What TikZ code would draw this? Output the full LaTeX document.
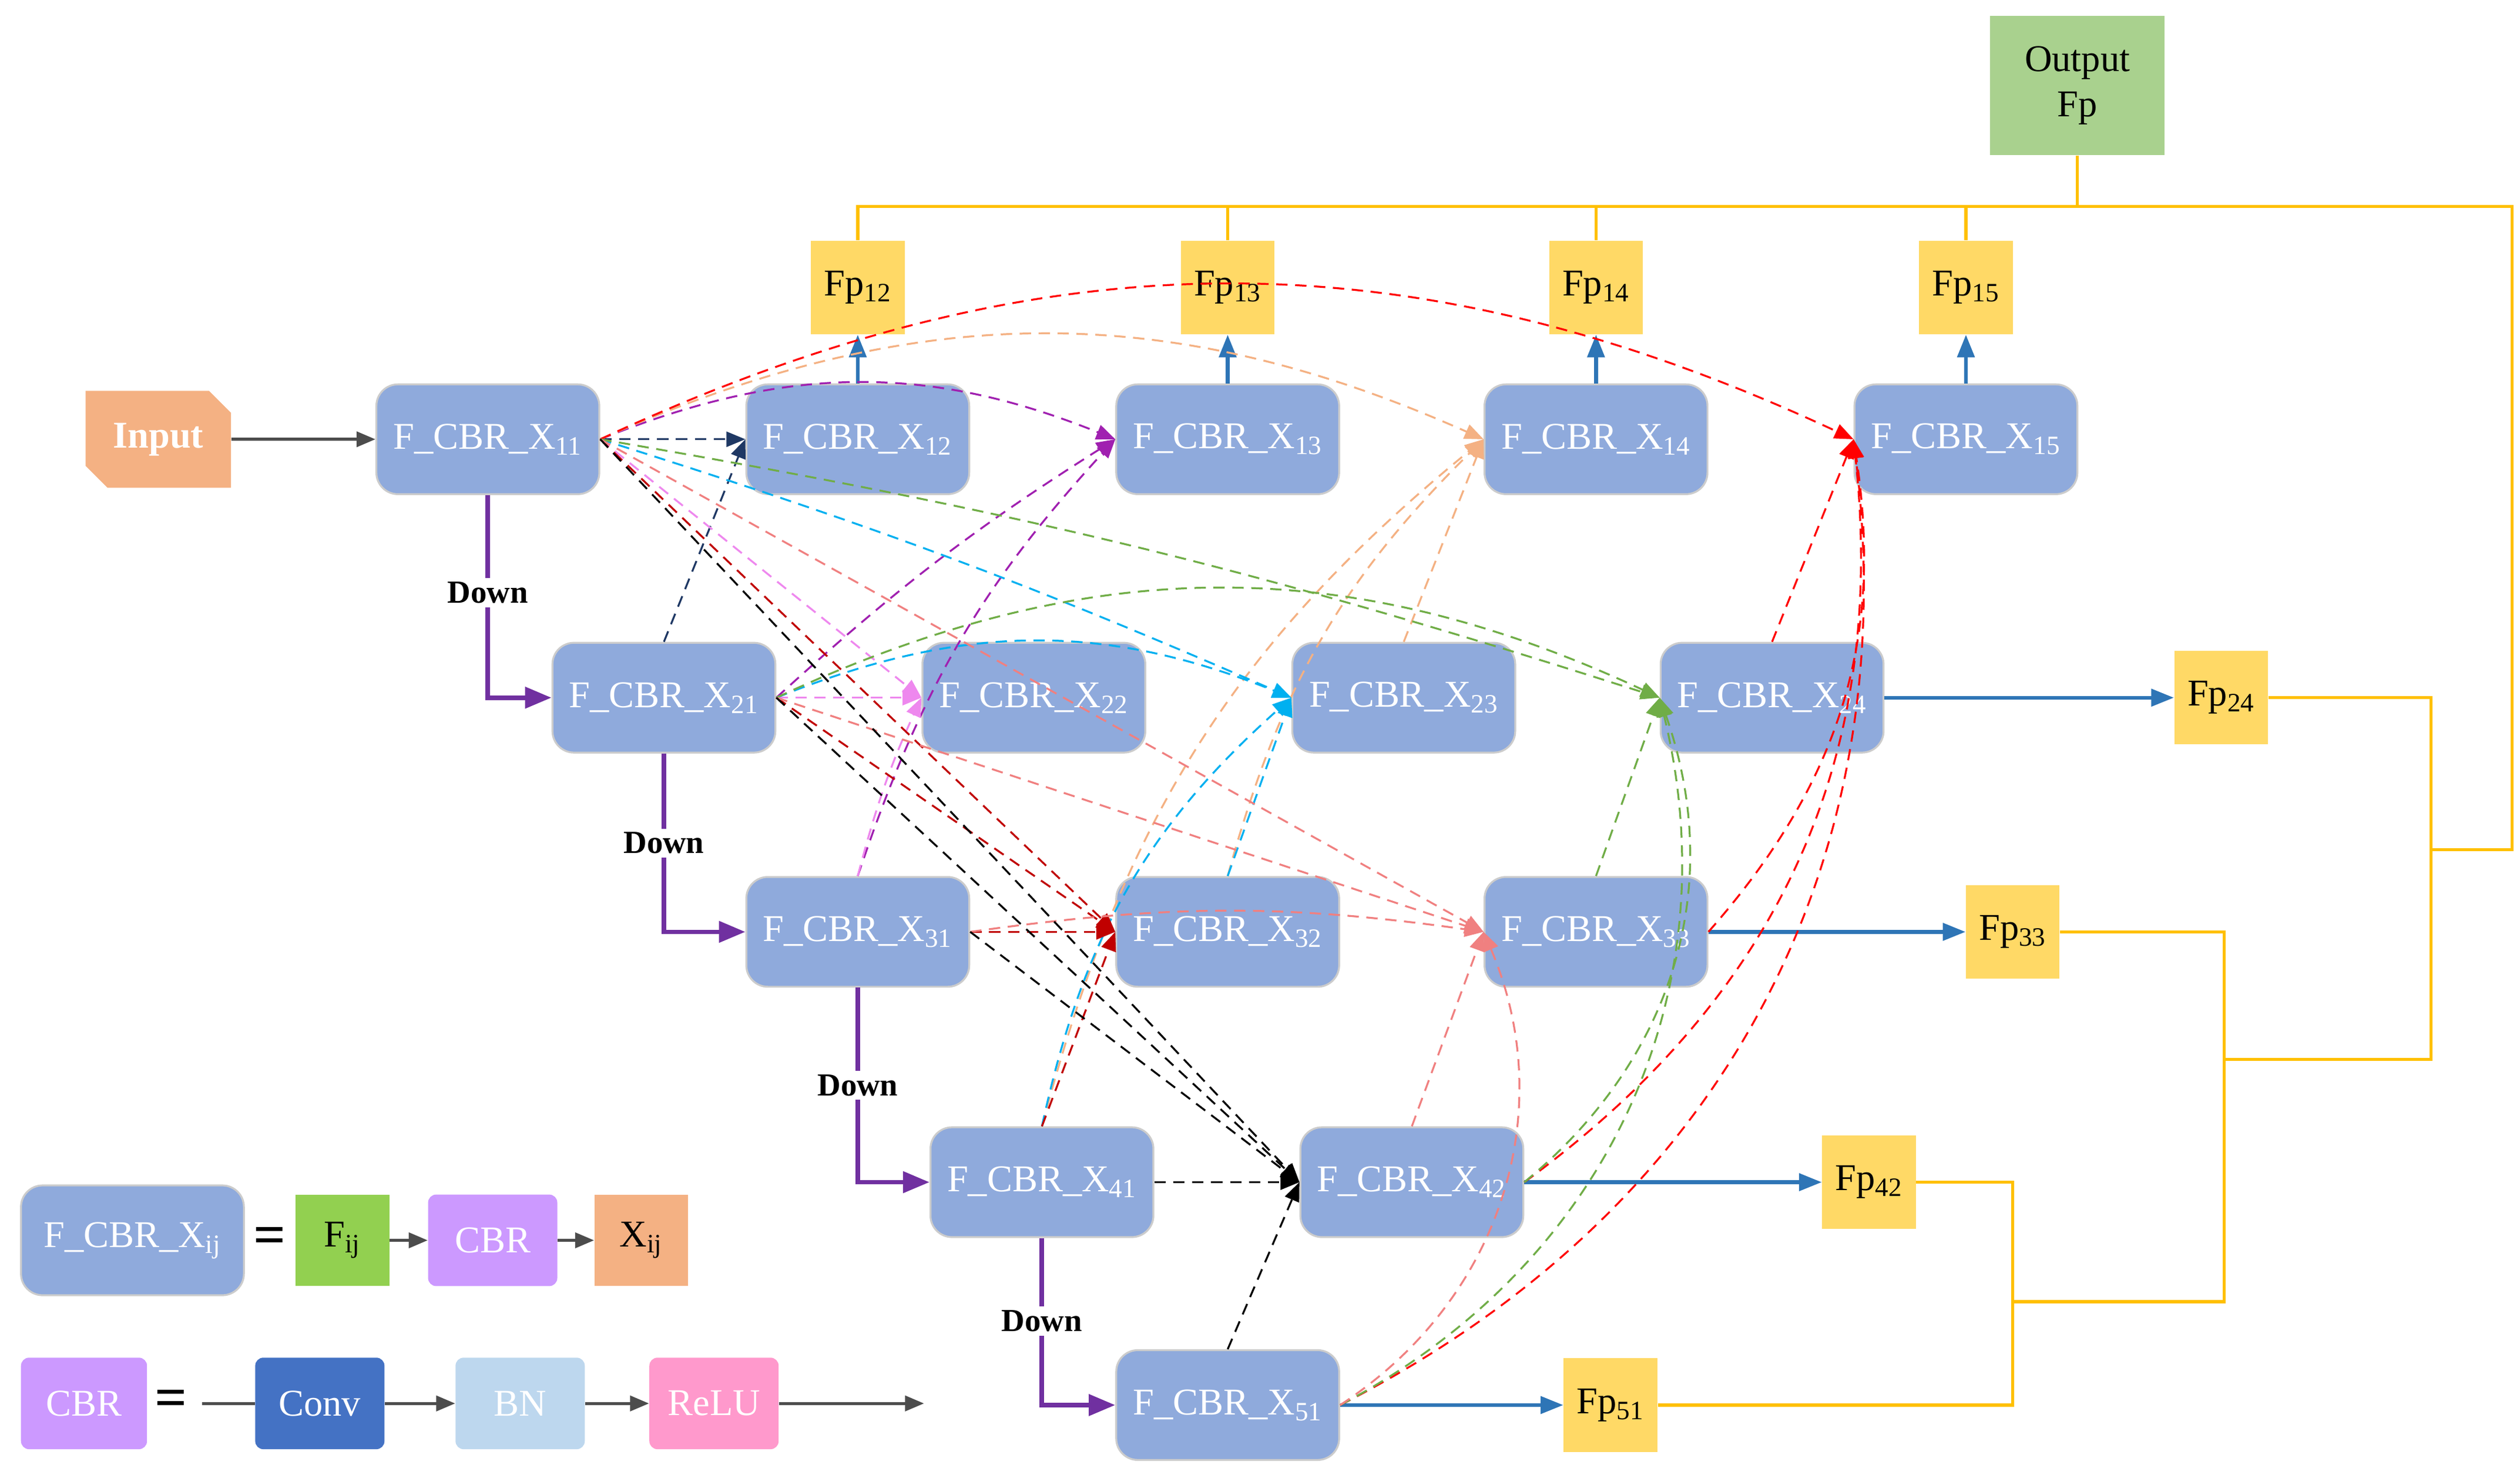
\documentclass[tikz,border=0pt]{standalone}
\usepackage{fontspec}
\setmainfont{Liberation Serif}
\usetikzlibrary{arrows.meta,positioning,shapes.misc}
\definecolor{blkblue}{HTML}{8FAADC}
\definecolor{fpyellow}{HTML}{FFD966}
\definecolor{outgreen}{HTML}{A9D18E}
\definecolor{inorange}{HTML}{F4B183}
\definecolor{fgreen}{HTML}{92D050}
\definecolor{cbrpurple}{HTML}{CC99FF}
\definecolor{convblue}{HTML}{4472C4}
\definecolor{bnblue}{HTML}{BDD7EE}
\definecolor{relupink}{HTML}{FF99CC}
\definecolor{fpline}{HTML}{FFC000}
\definecolor{upblue}{HTML}{2E75B6}
\definecolor{downpurple}{HTML}{7030A0}
\definecolor{cnavy}{HTML}{1F3864}
\definecolor{cpurple}{HTML}{A020B0}
\definecolor{corange}{HTML}{F4B183}
\definecolor{cred}{HTML}{FF0000}
\definecolor{cpink}{HTML}{EE88EE}
\definecolor{ccyan}{HTML}{00B0F0}
\definecolor{cgreen}{HTML}{70AD47}
\definecolor{cdred}{HTML}{C00000}
\definecolor{csalmon}{HTML}{F08080}

\begin{document}
\begin{tikzpicture}[
    x=0.03cm, y=-0.03cm,
    font=\fontsize{20}{24}\selectfont,
    blk/.style={draw=gray!40, line width=1pt, rounded corners=0.4cm, fill=blkblue,
                text=white, minimum width=4.14cm, minimum height=2.04cm, inner sep=0pt},
    fp/.style={fill=fpyellow, minimum width=1.74cm, minimum height=1.74cm, inner sep=0pt},
    leg/.style={minimum height=1.7cm, inner sep=0pt},
    up/.style={-{Triangle[length=12pt,width=9pt]}, upblue, line width=2pt},
    down/.style={-{Triangle[length=14pt,width=11pt]}, downpurple, line width=2.4pt},
    plain/.style={-{Triangle[length=10pt,width=8pt]}, black!70, line width=1.6pt},
    skip/.style={-{Triangle[length=10pt,width=8pt]}, dashed, dash pattern=on 6pt off 4pt, line width=1pt, #1},
    fpl/.style={fpline, line width=1.6pt},
    lbl/.style={fill=white, font=\fontsize{17}{20}\selectfont\bfseries, inner sep=2pt}
]
\useasboundingbox (0,0) rectangle (1560,907);

% encoder / decoder blocks
\node[blk] (x11) at (302,272) {F\_CBR\_X\textsubscript{11}};
\node[blk] (x12) at (531,272) {F\_CBR\_X\textsubscript{12}};
\node[blk] (x13) at (760,272) {F\_CBR\_X\textsubscript{13}};
\node[blk] (x14) at (988,272) {F\_CBR\_X\textsubscript{14}};
\node[blk] (x15) at (1217,272) {F\_CBR\_X\textsubscript{15}};
\node[blk] (x21) at (411,432) {F\_CBR\_X\textsubscript{21}};
\node[blk] (x22) at (640,432) {F\_CBR\_X\textsubscript{22}};
\node[blk] (x23) at (869,432) {F\_CBR\_X\textsubscript{23}};
\node[blk] (x24) at (1097,432) {F\_CBR\_X\textsubscript{24}};
\node[blk] (x31) at (531,577) {F\_CBR\_X\textsubscript{31}};
\node[blk] (x32) at (760,577) {F\_CBR\_X\textsubscript{32}};
\node[blk] (x33) at (988,577) {F\_CBR\_X\textsubscript{33}};
\node[blk] (x41) at (645,732) {F\_CBR\_X\textsubscript{41}};
\node[blk] (x42) at (874,732) {F\_CBR\_X\textsubscript{42}};
\node[blk] (x51) at (760,870) {F\_CBR\_X\textsubscript{51}};

% input and outputs
\node[fill=inorange, text=white, font=\fontsize{20}{24}\selectfont\bfseries,
      minimum width=2.7cm, minimum height=1.8cm, chamfered rectangle,
      chamfered rectangle corners={north east,south west}, chamfered rectangle xsep=0.3cm,
      inner sep=0pt] (input) at (98,272) {Input};
\node[fill=outgreen, minimum width=3.24cm, minimum height=2.58cm, align=center] (out) at (1286,53) {Output\\Fp};
\node[fp] (fp12) at (531,178) {Fp\textsubscript{12}};
\node[fp] (fp13) at (760,178) {Fp\textsubscript{13}};
\node[fp] (fp14) at (988,178) {Fp\textsubscript{14}};
\node[fp] (fp15) at (1217,178) {Fp\textsubscript{15}};
\node[fp] (fp24) at (1375,432) {Fp\textsubscript{24}};
\node[fp] (fp33) at (1246,577) {Fp\textsubscript{33}};
\node[fp] (fp42) at (1157,732) {Fp\textsubscript{42}};
\node[fp] (fp51) at (997,870) {Fp\textsubscript{51}};

% output tree
\coordinate (t0) at (1286,128);
\draw[fpl] (out.south) -- (t0);
\draw[fpl] (fp12.north) |- (t0) -| (1555,526) -- (1505,526);
\draw[fpl] (fp13.north) -- ++(0,-21);
\draw[fpl] (fp14.north) -- ++(0,-21);
\draw[fpl] (fp15.north) -- ++(0,-21);
\draw[fpl] (fp24.east) -| (1505,656) -- (1377,656);
\draw[fpl] (fp33.east) -| (1377,806) -- (1246,806);
\draw[fpl] (fp42.east) -| (1246,870) -- (fp51.east);

% main path
\draw[plain] (input) -- (x11);
\draw[down] (x11.south) |- (x21.west);
\draw[down] (x21.south) |- (x31.west);
\draw[down] (x31.south) |- (x41.west);
\draw[down] (x41.south) |- (x51.west);
\node[lbl] (d1) at (302,367) {Down};
\node[lbl] (d2) at (411,522) {Down};
\node[lbl] (d3) at (531,672) {Down};
\node[lbl] (d4) at (645,818) {Down};

% deep supervision
\draw[up] (x12) -- (fp12);
\draw[up] (x13) -- (fp13);
\draw[up] (x14) -- (fp14);
\draw[up] (x15) -- (fp15);
\draw[up] (x24) -- (fp24);
\draw[up] (x33) -- (fp33);
\draw[up] (x42) -- (fp42);
\draw[up] (x51) -- (fp51);

% dense skip paths
\draw[skip=cnavy] (x11.east) -- (x12.west);
\draw[skip=cnavy] (x21.north) -- (x12.west);
\draw[skip=cpurple] (x11.east) to[bend left=22] (x13.west);
\draw[skip=cpurple] (x31.north) to[bend left=12] (x13.west);
\draw[skip=cpurple] (x21.east) to[bend left=5] (x13.west);
\draw[skip=corange] (x11.east) to[bend left=24] (x14.west);
\draw[skip=corange] (x32.north) to[bend left=15] (x14.west);
\draw[skip=corange] (x41.north) to[bend left=18] (x14.west);
\draw[skip=corange] (x23.north) -- (x14.west);
\draw[skip=cred] (x11.east) to[bend left=25] (x15.west);
\draw[skip=cred] (x24.north) -- (x15.west);
\draw[skip=cred] (x33.east) to[bend right=25] (x15.west);
\draw[skip=cred] (x42.east) to[bend right=30] (x15.west);
\draw[skip=cred] (x51.east) to[bend right=35] (x15.west);
\draw[skip=cpink] (x11.east) -- (x22.west);
\draw[skip=cpink] (x21.east) -- (x22.west);
\draw[skip=cpink] (x31.north) to[bend left=5] (x22.west);
\draw[skip=ccyan] (x11.east) to[bend left=3] (x23.west);
\draw[skip=ccyan] (x21.east) to[bend left=22] (x23.west);
\draw[skip=ccyan] (x32.north) -- (x23.west);
\draw[skip=ccyan] (x41.north) to[bend left=18] (x23.west);
\draw[skip=cgreen] (x11.east) to[bend left=4] (x24.west);
\draw[skip=cgreen] (x21.east) to[bend left=25] (x24.west);
\draw[skip=cgreen] (x33.north) -- (x24.west);
\draw[skip=cgreen] (x42.east) to[bend right=35] (x24.west);
\draw[skip=cgreen] (x51.east) to[bend right=38] (x24.west);
\draw[skip=cdred] (x11.east) -- (x32.west);
\draw[skip=cdred] (x21.east) -- (x32.west);
\draw[skip=cdred] (x31.east) -- (x32.west);
\draw[skip=cdred] (x41.north) -- (x32.west);
\draw[skip=csalmon] (x11.east) -- (x33.west);
\draw[skip=csalmon] (x21.east) -- (x33.west);
\draw[skip=csalmon] (x31.east) to[bend left=8] (x33.west);
\draw[skip=csalmon] (x42.north) -- (x33.west);
\draw[skip=csalmon] (x51.east) to[bend right=40] (x33.west);
\draw[skip=black] (x11.east) -- (x42.west);
\draw[skip=black] (x21.east) -- (x42.west);
\draw[skip=black] (x31.east) -- (x42.west);
\draw[skip=black] (x41.east) -- (x42.west);
\draw[skip=black] (x51.north) -- (x42.west);

% legend
\node[blk] (lgx) at (82,768) {F\_CBR\_X\textsubscript{ij}};
\node[font=\fontsize{30}{30}\selectfont\bfseries] (eq1) at (167,768) {=};
\node[leg, fill=fgreen, minimum width=1.74cm] (lgf) at (212,768) {F\textsubscript{ij}};
\node[leg, fill=cbrpurple, text=white, minimum width=2.4cm, rounded corners=0.15cm] (lgc) at (305,768) {CBR};
\node[leg, fill=inorange, minimum width=1.74cm] (lgo) at (397,768) {X\textsubscript{ij}};
\draw[plain] (lgf) -- (lgc);
\draw[plain] (lgc) -- (lgo);

\node[leg, fill=cbrpurple, text=white, minimum width=2.34cm, rounded corners=0.15cm] (cbr) at (52,869) {CBR};
\node[font=\fontsize{30}{30}\selectfont\bfseries] (eq2) at (106,869) {=};
\node[leg, fill=convblue, text=white, minimum width=2.4cm, rounded corners=0.15cm] (conv) at (198,869) {Conv};
\node[leg, fill=bnblue, text=white, minimum width=2.4cm, rounded corners=0.15cm] (bn) at (322,869) {BN};
\node[leg, fill=relupink, text=white, minimum width=2.4cm, rounded corners=0.15cm] (relu) at (442,869) {ReLU};
\coordinate (cin) at (125,869);
\coordinate (cout) at (572,869);
\draw[black!70, line width=1.6pt] (cin) -- (conv);
\draw[plain] (conv) -- (bn);
\draw[plain] (bn) -- (relu);
\draw[plain] (relu) -- (cout);
\end{tikzpicture}
\end{document}
